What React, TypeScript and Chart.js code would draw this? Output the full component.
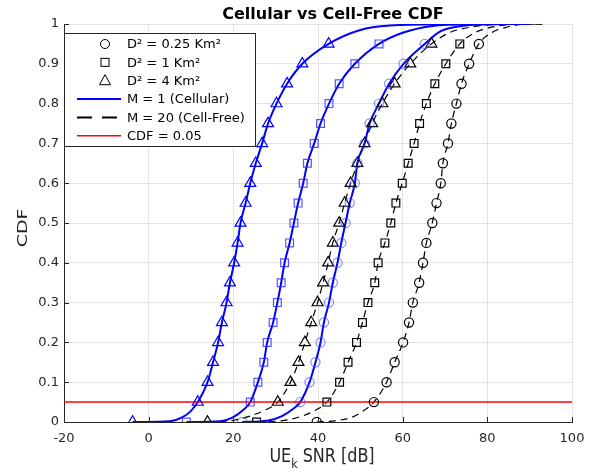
import React, { useEffect, useRef } from 'react';
import { Chart, registerables } from 'chart.js';

Chart.register(...registerables);

// ---------- text ----------
const chartTitle = 'Cellular vs Cell-Free CDF';
const xTitleMain = 'UE';
const xTitleSub = 'k';
const xTitleRest = ' SNR [dB]';
const yTitle = 'CDF';
const yTickLabels = ['0', '0.1', '0.2', '0.3', '0.4', '0.5', '0.6', '0.7', '0.8', '0.9', '1'];
const legendLabels = ['D\u00B2 = 0.25 Km\u00B2', 'D\u00B2 = 1 Km\u00B2', 'D\u00B2 = 4 Km\u00B2', 'M = 1 (Cellular)', 'M = 20 (Cell-Free)', 'CDF = 0.05'];

// ---------- data ----------
const cdfLevels = [0, 0.05, 0.1, 0.15, 0.2, 0.25, 0.3, 0.35, 0.4, 0.45, 0.5, 0.55, 0.6, 0.65, 0.7, 0.75, 0.8, 0.85, 0.9, 0.95];

// Cellular (M = 1)
const snrCellD025 = [22.1, 35.8, 38.0, 39.4, 40.6, 41.4, 42.6, 43.5, 44.6, 45.5, 46.5, 47.5, 48.7, 49.3, 51.0, 52.2, 54.4, 56.8, 60.2, 65.2];
const snrCellD1 = [8.9, 24.0, 25.8, 27.2, 28.0, 29.4, 30.4, 31.3, 32.1, 33.3, 34.3, 35.3, 36.5, 37.5, 39.1, 40.6, 42.6, 45.0, 48.7, 54.4];
const snrCellD4 = [-3.8, 11.6, 13.9, 15.2, 16.4, 17.3, 18.4, 19.2, 20.2, 21.0, 21.7, 22.9, 24.0, 25.3, 26.8, 28.2, 30.2, 32.7, 36.3, 42.5];
// Cell-Free (M = 20)
const snrFreeD025 = [39.7, 53.2, 56.2, 58.1, 60.1, 61.5, 62.4, 63.9, 64.8, 65.6, 67.0, 68.0, 69.0, 69.5, 70.7, 71.5, 72.7, 73.9, 75.7, 78.0];
const snrFreeD1 = [25.5, 42.1, 45.1, 47.1, 49.1, 50.5, 51.8, 53.4, 54.2, 55.8, 57.2, 58.4, 59.9, 61.3, 62.7, 64.0, 65.6, 67.6, 70.2, 73.5];
const snrFreeD4 = [13.9, 30.5, 33.5, 35.4, 36.9, 38.4, 39.9, 41.2, 42.4, 43.5, 45.0, 46.3, 47.7, 49.3, 51.0, 52.8, 55.2, 58.1, 61.8, 66.8];

// curve tails (SNR, CDF)
const lowCellD025 = [[28, 0.003], [31.5, 0.015], [34, 0.032]];
const highCellD025 = [[69, 0.982], [74, 0.995], [80, 0.9995], [90, 1]];
const lowCellD1 = [[17, 0.002], [20, 0.012], [22.3, 0.03]];
const highCellD1 = [[60, 0.978], [67, 0.995], [76, 0.9995], [90, 1]];
const lowCellD4 = [[5, 0.002], [8, 0.012], [10, 0.028]];
const highCellD4 = [[50, 0.985], [57, 0.996], [70, 0.9995], [88, 1]];
const lowFreeD025 = [[44, 0.003], [48, 0.012], [51, 0.03]];
const highFreeD025 = [[81, 0.978], [85, 0.993], [88.5, 0.999], [93, 1]];
const lowFreeD1 = [[32, 0.004], [36, 0.014], [39.5, 0.03]];
const highFreeD1 = [[77, 0.978], [81, 0.992], [86, 0.999], [93, 1]];
const lowFreeD4 = [[20, 0.004], [24, 0.015], [27.5, 0.03]];
const highFreeD4 = [[71, 0.978], [76, 0.992], [82, 0.999], [92, 1]];

const cdfThreshold = 0.05;
const xMin = -20;
const xMax = 100;

// ---------- styles ----------
const BLUE = '#0000ff';
const FONT = '"DejaVu Sans", Verdana, sans-serif';
const AXIS_COLOR = '#262626';
const GRID_COLOR = '#e3e3e3';

type P = { x: number; y: number };

function markerPoints(snr: number[]): P[] {
  return snr.map((x, i) => ({ x, y: cdfLevels[i] }));
}
function linePoints(snr: number[], low: number[][], high: number[][]): P[] {
  const pts: P[] = [{ x: snr[0], y: cdfLevels[0] }];
  low.forEach(([x, y]) => pts.push({ x, y }));
  for (let i = 1; i < snr.length; i++) pts.push({ x: snr[i], y: cdfLevels[i] });
  high.forEach(([x, y]) => pts.push({ x, y }));
  return pts;
}

function lineDs(data: P[], cellFree: boolean) {
  return {
    type: 'line' as const,
    data,
    showLine: true,
    borderColor: cellFree ? '#000000' : BLUE,
    borderWidth: cellFree ? 1.2 : 2,
    borderDash: cellFree ? [7, 5] : [],
    pointRadius: 0,
    fill: false,
    cubicInterpolationMode: 'monotone' as const,
    order: 3,
  };
}
function markerDs(data: P[], style: string, color: string, radius: number) {
  return {
    type: 'scatter' as const,
    data,
    showLine: false,
    pointStyle: style,
    pointRadius: radius,
    pointBorderColor: color,
    pointBackgroundColor: 'rgba(0,0,0,0)',
    pointBorderWidth: 1.2,
    borderColor: color,
    backgroundColor: 'rgba(0,0,0,0)',
    order: 1,
  };
}

const decorPlugin = {
  id: 'decor',
  afterDatasetsDraw(chart: any) {
    const ctx = chart.ctx;
    const a = chart.chartArea;
    ctx.save();
    ctx.strokeStyle = AXIS_COLOR;
    ctx.lineWidth = 1;
    ctx.beginPath();
    chart.scales.x.ticks.forEach((t: any) => {
      const px = Math.round(chart.scales.x.getPixelForValue(t.value)) + 0.5;
      ctx.moveTo(px, a.bottom);
      ctx.lineTo(px, a.bottom - 5);
    });
    chart.scales.y.ticks.forEach((t: any) => {
      const py = Math.round(chart.scales.y.getPixelForValue(t.value)) + 0.5;
      ctx.moveTo(a.left, py);
      ctx.lineTo(a.left + 5, py);
    });
    ctx.stroke();
    ctx.restore();
  },
  afterDraw(chart: any) {
    const ctx = chart.ctx;
    const a = chart.chartArea;
    ctx.save();
    // title
    ctx.fillStyle = '#000';
    ctx.font = `bold 16px ${FONT}`;
    ctx.textAlign = 'center';
    ctx.textBaseline = 'alphabetic';
    ctx.fillText(chartTitle, 333, 18.5);

    // x axis title with subscript
    ctx.fillStyle = AXIS_COLOR;
    const mainFont = `16px ${FONT}`;
    const subFont = `11px ${FONT}`;
    ctx.font = mainFont;
    const w1 = ctx.measureText(xTitleMain).width;
    const w3 = ctx.measureText(xTitleRest).width;
    ctx.font = subFont;
    const w2 = ctx.measureText(xTitleSub).width;
    const total = w1 + w2 + w3;
    const cx = 322;
    const x0 = cx - total / 2;
    ctx.save();
    ctx.translate(0, 462);
    ctx.scale(1, 1.18);
    ctx.textAlign = 'left';
    ctx.font = mainFont;
    ctx.fillText(xTitleMain, x0, 0);
    ctx.font = subFont;
    ctx.fillText(xTitleSub, x0 + w1, 5);
    ctx.font = mainFont;
    ctx.fillText(xTitleRest, x0 + w1 + w2, 0);
    ctx.restore();

    // y axis title
    ctx.save();
    ctx.translate(27, 228);
    ctx.rotate(-Math.PI / 2);
    ctx.scale(1.35, 1);
    ctx.font = `14px ${FONT}`;
    ctx.textAlign = 'center';
    ctx.textBaseline = 'alphabetic';
    ctx.fillText(yTitle, 0, 0);
    ctx.restore();

    // legend
    const bx = Math.round(a.left) + 0.5;
    const by = 33.5;
    const bw = 191;
    const bh = 113;
    ctx.fillStyle = '#ffffff';
    ctx.fillRect(bx, by, bw, bh);
    ctx.strokeStyle = AXIS_COLOR;
    ctx.lineWidth = 1;
    ctx.strokeRect(bx, by, bw, bh);

    const rowY0 = 44;
    const rowH = 18.35;
    const symX = 105;
    const lineX0 = 77;
    const lineX1 = 121;
    const textX = 127;
    ctx.font = `13px ${FONT}`;
    ctx.textAlign = 'left';
    ctx.textBaseline = 'middle';
    legendLabels.forEach((label, i) => {
      const y = rowY0 + i * rowH;
      ctx.save();
      ctx.strokeStyle = '#000';
      ctx.lineWidth = 1;
      ctx.beginPath();
      if (i === 0) {
        ctx.arc(symX, y, 4.5, 0, Math.PI * 2);
        ctx.stroke();
      } else if (i === 1) {
        ctx.strokeRect(symX - 4, y - 4, 8, 8);
      } else if (i === 2) {
        ctx.moveTo(symX, y - 6);
        ctx.lineTo(symX + 5.5, y + 4);
        ctx.lineTo(symX - 5.5, y + 4);
        ctx.closePath();
        ctx.stroke();
      } else {
        if (i === 3) {
          ctx.strokeStyle = BLUE;
          ctx.lineWidth = 2;
        } else if (i === 4) {
          ctx.strokeStyle = '#000';
          ctx.lineWidth = 2;
          ctx.setLineDash([15, 10]);
        } else {
          ctx.strokeStyle = '#ff0000';
          ctx.lineWidth = 1.5;
        }
        ctx.moveTo(lineX0, y);
        ctx.lineTo(lineX1, y);
        ctx.stroke();
      }
      ctx.restore();
      ctx.fillStyle = '#000';
      ctx.fillText(label, textX, y + 1);
    });
    ctx.restore();
  },
};

export default function App() {
  const canvasRef = useRef<HTMLCanvasElement | null>(null);

  useEffect(() => {
    document.body.style.margin = '0';
    const canvas = canvasRef.current;
    if (!canvas) return;

    const datasets: any[] = [
      markerDs(markerPoints(snrCellD4), 'triangle', BLUE, 6.3),
      markerDs(markerPoints(snrCellD1), 'rect', 'rgba(40,40,255,0.8)', 5.5),
      markerDs(markerPoints(snrCellD025), 'circle', 'rgba(60,60,255,0.6)', 4.6),
      markerDs(markerPoints(snrFreeD4), 'triangle', '#000000', 6.3),
      markerDs(markerPoints(snrFreeD1), 'rect', '#000000', 5.5),
      markerDs(markerPoints(snrFreeD025), 'circle', '#000000', 4.6),
      {
        type: 'line',
        data: [
          { x: xMin, y: cdfThreshold },
          { x: xMax, y: cdfThreshold },
        ],
        borderColor: '#ff0000',
        borderWidth: 1.5,
        pointRadius: 0,
        fill: false,
        order: 2,
      },
      lineDs(linePoints(snrCellD4, lowCellD4, highCellD4), false),
      lineDs(linePoints(snrCellD1, lowCellD1, highCellD1), false),
      lineDs(linePoints(snrCellD025, lowCellD025, highCellD025), false),
      lineDs(linePoints(snrFreeD4, lowFreeD4, highFreeD4), true),
      lineDs(linePoints(snrFreeD1, lowFreeD1, highFreeD1), true),
      lineDs(linePoints(snrFreeD025, lowFreeD025, highFreeD025), true),
    ];

    const chart = new Chart(canvas, {
      type: 'scatter',
      data: { datasets },
      options: {
        animation: false,
        responsive: false,
        maintainAspectRatio: false,
        devicePixelRatio: 1,
        layout: { padding: { top: 24, right: 26, left: 0, bottom: 0 } },
        plugins: {
          legend: { display: false },
          title: { display: false },
          tooltip: { enabled: false },
        },
        scales: {
          x: {
            type: 'linear',
            min: xMin,
            max: xMax,
            ticks: {
              stepSize: 20,
              color: AXIS_COLOR,
              padding: 9,
              font: { family: FONT, size: 13 },
              maxRotation: 0,
            },
            grid: { color: GRID_COLOR, lineWidth: 1, drawTicks: false },
            border: { display: true, color: AXIS_COLOR, width: 1 },
            afterFit: (s: any) => {
              s.height = 52;
            },
          },
          y: {
            type: 'linear',
            min: 0,
            max: 1,
            ticks: {
              stepSize: 0.1,
              color: AXIS_COLOR,
              padding: 5,
              font: { family: FONT, size: 13 },
              callback: (_v: any, i: number) => yTickLabels[i],
            },
            grid: { color: GRID_COLOR, lineWidth: 1, drawTicks: false },
            border: { display: true, color: AXIS_COLOR, width: 1 },
            afterFit: (s: any) => {
              s.width = 64;
            },
          },
        },
      } as any,
      plugins: [decorPlugin],
    });

    return () => chart.destroy();
  }, []);

  return (
    <div style={{ position: 'fixed', left: 0, top: 0, width: 598, height: 474, background: '#fff' }}>
      <canvas ref={canvasRef} width={598} height={474} style={{ width: 598, height: 474, display: 'block' }} />
    </div>
  );
}
